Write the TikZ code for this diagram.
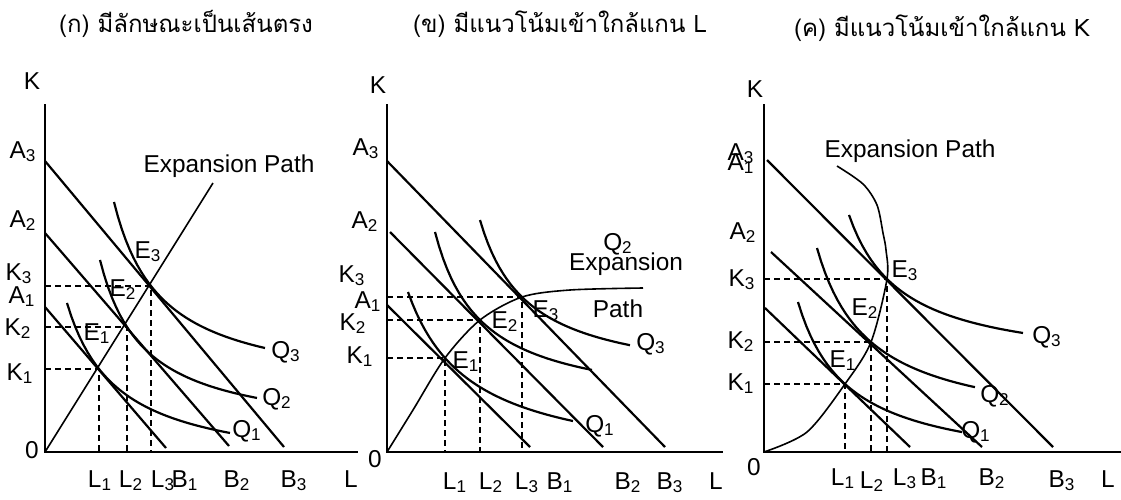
\documentclass[tikz,border=0pt]{standalone}
\usepackage{fontspec}
\setmainfont{Liberation Sans}
\newfontfamily\thaifont[Script=Thai]{Loma}

\begin{document}
\begin{tikzpicture}[x=0.5pt,y=-0.5pt]
  \tikzstyle{lab}=[inner sep=0pt,anchor=base,font=\fontsize{12.2}{14}\selectfont]
  \tikzstyle{title}=[inner sep=0pt,anchor=base,font=\thaifont\fontsize{12}{14}\selectfont]
  \tikzstyle{axis}=[line width=1.4pt]
  \tikzstyle{budget}=[line width=1.1pt]
  \tikzstyle{iso}=[line width=1.1pt,samples=40]
  \tikzstyle{path}=[line width=0.8pt]
  \tikzstyle{guide}=[line width=0.8pt,dash pattern=on 3pt off 2pt]
  \useasboundingbox (0,0) rectangle (1121,499);

  % (ก) เส้นตรง
  \node[title] (ta) at (186,32) {(ก) มีลักษณะเป็นเส้นตรง};
  \coordinate (aO) at (45,452);
  \coordinate (aK) at (45,104);
  \coordinate (aL) at (358,452);
  \draw[axis] (aK) -- (aO) -- (aL);
  \coordinate (aA1) at (45,307);  \coordinate (aB1) at (166,448);
  \coordinate (aA2) at (45,233);  \coordinate (aB2) at (229,446);
  \coordinate (aA3) at (45,161);  \coordinate (aB3) at (284,447);
  \draw[budget] (aA1) -- (aB1);
  \draw[budget] (aA2) -- (aB2);
  \draw[budget] (aA3) -- (aB3);
  \coordinate (aE1) at (99,369);
  \coordinate (aE2) at (127,327);
  \coordinate (aE3) at (151,286);
  \coordinate (aP) at (213,183);
  \draw[path] (aO) -- (aP);
  \draw[guide] (aE1 -| aO) -- (aE1) -- (aE1 |- aO);
  \draw[guide] (aE2 -| aO) -- (aE2) -- (aE2 |- aO);
  \draw[guide] (aE3 -| aO) -- (aE3) -- (aE3 |- aO);
  \draw[iso,domain=67:230] plot (\x,{473.3-8617.6/(\x-16.41)});
  \draw[iso,domain=100:257] plot (\x,{436.9-7838/(\x-55.7)});
  \draw[iso,domain=114:265] plot (\x,{394-9133/(\x-66.43)});
  \node[lab] (aKl) at (32,89) {K};
  \node[lab] (aA3l) at (23,158) {A\textsubscript{3}};
  \node[lab] (aA2l) at (23,227) {A\textsubscript{2}};
  \node[lab] (aK3l) at (19,280) {K\textsubscript{3}};
  \node[lab] (aA1l) at (22,303) {A\textsubscript{1}};
  \node[lab] (aK2l) at (18,335) {K\textsubscript{2}};
  \node[lab] (aK1l) at (20,380) {K\textsubscript{1}};
  \node[lab] (a0l) at (32,458) {0};
  \node[lab] (aL1l) at (100,487) {L\textsubscript{1}};
  \node[lab] (aL2l) at (131,487) {L\textsubscript{2}};
  \node[lab] (aL3l) at (163,487) {L\textsubscript{3}};
  \node[lab] (aB1l) at (185,487) {B\textsubscript{1}};
  \node[lab] (aB2l) at (237,487) {B\textsubscript{2}};
  \node[lab] (aB3l) at (294,487) {B\textsubscript{3}};
  \node[lab] (aLl) at (351,487) {L};
  \node[lab] (aE1l) at (97,340) {E\textsubscript{1}};
  \node[lab] (aE2l) at (123,296) {E\textsubscript{2}};
  \node[lab] (aE3l) at (148,258) {E\textsubscript{3}};
  \node[lab] (aQ1l) at (247,437) {Q\textsubscript{1}};
  \node[lab] (aQ2l) at (277,405) {Q\textsubscript{2}};
  \node[lab] (aQ3l) at (286,358) {Q\textsubscript{3}};
  \node[lab] (aPl) at (229,172) {Expansion Path};

  % (ข) เข้าใกล้แกน L
  \node[title] (tb) at (560,32) {(ข) มีแนวโน้มเข้าใกล้แกน L};
  \coordinate (bO) at (387,452);
  \coordinate (bK) at (387,104);
  \coordinate (bL) at (723,452);
  \draw[axis] (bK) -- (bO) -- (bL);
  \coordinate (bA1) at (387,305);  \coordinate (bB1) at (530,447);
  \coordinate (bA2) at (390,232);  \coordinate (bB2) at (603,447);
  \coordinate (bA3) at (387,161);  \coordinate (bB3) at (665,447);
  \draw[budget] (bA1) -- (bB1);
  \draw[budget] (bA2) -- (bB2);
  \draw[budget] (bA3) -- (bB3);
  \coordinate (bE1) at (445,358);
  \coordinate (bE2) at (480,320);
  \coordinate (bE3) at (522,297);
  \draw[path] plot[smooth] coordinates {(bO) (413,410) (bE1) (bE2) (bE3) (570,290) (643,288)};
  \draw[guide] (bE1 -| bO) -- (bE1) -- (bE1 |- bO);
  \draw[guide] (bE2 -| bO) -- (bE2) -- (bE2 |- bO);
  \draw[guide] (bE3 -| bO) -- (bE3) -- (bE3 |- bO);
  \draw[iso,domain=408:573] plot (\x,{470.2-11209/(\x-345.1)});
  \draw[iso,domain=435:592] plot (\x,{410.7-8293/(\x-388.6)});
  \draw[iso,domain=480:630] plot (\x,{385.4-7971/(\x-431.8)});
  \node[lab] (bKl) at (378,93) {K};
  \node[lab] (bA3l) at (366,155) {A\textsubscript{3}};
  \node[lab] (bA2l) at (365,228) {A\textsubscript{2}};
  \node[lab] (bK3l) at (352,282) {K\textsubscript{3}};
  \node[lab] (bA1l) at (368,308) {A\textsubscript{1}};
  \node[lab] (bK2l) at (353,330) {K\textsubscript{2}};
  \node[lab] (bK1l) at (360,363) {K\textsubscript{1}};
  \node[lab] (b0l) at (375,467) {0};
  \node[lab] (bL1l) at (455,489) {L\textsubscript{1}};
  \node[lab] (bL2l) at (491,489) {L\textsubscript{2}};
  \node[lab] (bL3l) at (527,489) {L\textsubscript{3}};
  \node[lab] (bB1l) at (560,489) {B\textsubscript{1}};
  \node[lab] (bB2l) at (628,489) {B\textsubscript{2}};
  \node[lab] (bB3l) at (670,489) {B\textsubscript{3}};
  \node[lab] (bLl) at (716,489) {L};
  \node[lab] (bE1l) at (466,368) {E\textsubscript{1}};
  \node[lab] (bE2l) at (505,328) {E\textsubscript{2}};
  \node[lab] (bE3l) at (546,317) {E\textsubscript{3}};
  \node[lab] (bQ1l) at (600,432) {Q\textsubscript{1}};
  \node[lab] (bQ2l) at (618,250) {Q\textsubscript{2}};
  \node[lab] (bQ3l) at (651,350) {Q\textsubscript{3}};
  \node[lab] (bP1l) at (626,270) {Expansion};
  \node[lab] (bP2l) at (618,317) {Path};

  % (ค) เข้าใกล้แกน K
  \node[title] (tc) at (942,36) {(ค) มีแนวโน้มเข้าใกล้แกน K};
  \coordinate (cO) at (764,452);
  \coordinate (cK) at (764,104);
  \coordinate (cL) at (1121,452);
  \draw[axis] (cK) -- (cO) -- (cL);
  \coordinate (cA1) at (765,308);  \coordinate (cB1) at (910,447);
  \coordinate (cA2) at (771,252);  \coordinate (cB2) at (982,447);
  \coordinate (cA3) at (767,160);  \coordinate (cB3) at (1053,447);
  \draw[budget] (cA1) -- (cB1);
  \draw[budget] (cA2) -- (cB2);
  \draw[budget] (cA3) -- (cB3);
  \coordinate (cE1) at (845,384);
  \coordinate (cE2) at (871,342);
  \coordinate (cE3) at (887,279);
  \draw[path] plot[smooth] coordinates {(cO) (807,432) (cE1) (cE2) (cE3) (886,250) (883,233) (877,205) (863,184) (837,166)};
  \draw[guide] (cE1 -| cO) -- (cE1) -- (cE1 |- cO);
  \draw[guide] (cE2 -| cO) -- (cE2) -- (cE2 |- cO);
  \draw[guide] (cE3 -| cO) -- (cE3) -- (cE3 |- cO);
  \draw[iso,domain=798:962] plot (\x,{472.1-8590/(\x-747.5)});
  \draw[iso,domain=817:975] plot (\x,{433.4-9733/(\x-764.5)});
  \draw[iso,domain=849:1023] plot (\x,{369.4-8294/(\x-795.3)});
  \node[lab] (cKl) at (755,97) {K};
  \node[lab] (cA3l) at (741,160) {A\textsubscript{3}};
  \node[lab] (cA1l) at (741,170) {A\textsubscript{1}};
  \node[lab] (cA2l) at (743,239) {A\textsubscript{2}};
  \node[lab] (cK3l) at (742,286) {K\textsubscript{3}};
  \node[lab] (cK2l) at (741,348) {K\textsubscript{2}};
  \node[lab] (cK1l) at (741,390) {K\textsubscript{1}};
  \node[lab] (c0l) at (754,475) {0};
  \node[lab] (cL1l) at (843,485) {L\textsubscript{1}};
  \node[lab] (cL2l) at (872,488) {L\textsubscript{2}};
  \node[lab] (cL3l) at (905,485) {L\textsubscript{3}};
  \node[lab] (cB1l) at (934,485) {B\textsubscript{1}};
  \node[lab] (cB2l) at (992,485) {B\textsubscript{2}};
  \node[lab] (cB3l) at (1062,487) {B\textsubscript{3}};
  \node[lab] (cLl) at (1108,487) {L};
  \node[lab] (cE1l) at (843,367) {E\textsubscript{1}};
  \node[lab] (cE2l) at (865,315) {E\textsubscript{2}};
  \node[lab] (cE3l) at (905,277) {E\textsubscript{3}};
  \node[lab] (cQ1l) at (976,438) {Q\textsubscript{1}};
  \node[lab] (cQ2l) at (995,402) {Q\textsubscript{2}};
  \node[lab] (cQ3l) at (1047,343) {Q\textsubscript{3}};
  \node[lab] (cPl) at (910,157) {Expansion Path};
\end{tikzpicture}
\end{document}
